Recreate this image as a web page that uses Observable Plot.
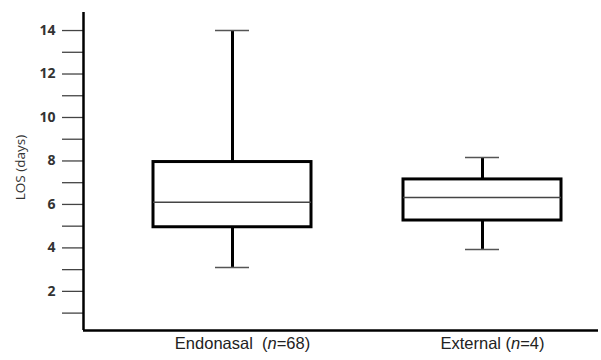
<!DOCTYPE html>
<html><head><meta charset="utf-8">
<script src="https://cdn.jsdelivr.net/npm/d3@7"></script>
<script src="https://cdn.jsdelivr.net/npm/@observablehq/plot@0.6"></script>
<style>body{margin:0;background:#fff}</style>
</head><body><div id="chart"></div>
<script>
const groups = ["Endonasal", "External"];
const counts = [68, 4];
const whiskerLow = [3.1, 3.93];
const q1 = [4.95, 5.26];
const median = [6.1, 6.32];
const q3 = [7.95, 7.15];
const whiskerHigh = [14.0, 8.16];
const yTicks = [1,2,3,4,5,6,7,8,9,10,11,12,13,14];

const data = groups.map((g, i) => ({
  i, g, n: counts[i], lo: whiskerLow[i], q1: q1[i], med: median[i], q3: q3[i], hi: whiskerHigh[i],
  label: g + "\u00a0\u00a0(n=" + counts[i] + ")"
}));
data[1].label = "External (n=4)";

const bw = 0.316, cw = 0.068;
const xDom = [-0.596, 1.464], yDom = [0.2, 14.83];

const chart = Plot.plot({
  width: 601, height: 360,
  marginLeft: 83, marginRight: 3, marginTop: 12, marginBottom: 30,
  x: {domain: xDom, axis: null},
  y: {domain: yDom},
  style: {background: "#fff"},
  marks: [
    Plot.axisY({ticks: yTicks, tickFormat: d => d % 2 ? "" : d, tickSize: 21, tickPadding: 7,
      stroke: "#444", strokeWidth: 1.3, fontSize: 14, fontWeight: 700, fill: "#333",
      fontFamily: "Open Sans", label: null}),
    Plot.text(["LOS (days)"], {frameAnchor: "left", textAnchor: "middle", dx: -63, dy: -4, rotate: -90, fontSize: 13.5,
      fontFamily: "Open Sans", fill: "#333"}),
    Plot.ruleX(data, {x: "i", y1: "q3", y2: "hi", stroke: "#000", strokeWidth: 3}),
    Plot.ruleX(data, {x: "i", y1: "lo", y2: "q1", stroke: "#000", strokeWidth: 3}),
    Plot.ruleY(data, {y: "hi", x1: d => d.i - cw, x2: d => d.i + cw, stroke: "#555", strokeWidth: 1.5}),
    Plot.ruleY(data, {y: "lo", x1: d => d.i - cw, x2: d => d.i + cw, stroke: "#555", strokeWidth: 1.5}),
    Plot.rect(data, {x1: d => d.i - bw, x2: d => d.i + bw, y1: "q1", y2: "q3", fill: "#fff", stroke: "#000", strokeWidth: 3}),
    Plot.ruleY(data, {y: "med", x1: d => d.i - bw, x2: d => d.i + bw, stroke: "#444", strokeWidth: 1.5}),
    Plot.ruleX([xDom[0]], {stroke: "#000", strokeWidth: 2.5}),
    Plot.ruleY([yDom[0]], {stroke: "#000", strokeWidth: 2.5}),
    Plot.text(data, {x: "i", text: "label", frameAnchor: "bottom", dy: 18, dx: 10, fontSize: 16.5,
      fontFamily: "Liberation Sans, Arial, sans-serif", fill: "#222"})
  ]
});
document.getElementById("chart").appendChild(chart);

// italicize the "n" in "(n=..)"
d3.select(chart).selectAll("text").each(function() {
  const t = this.textContent;
  const m = t.match(/^(.*\()n(=.*)$/);
  if (!m) return;
  const el = d3.select(this);
  el.text(null);
  el.append("tspan").text(m[1]);
  el.append("tspan").attr("font-style", "italic").text("n");
  el.append("tspan").text(m[2]);
});
</script>
</body></html>
